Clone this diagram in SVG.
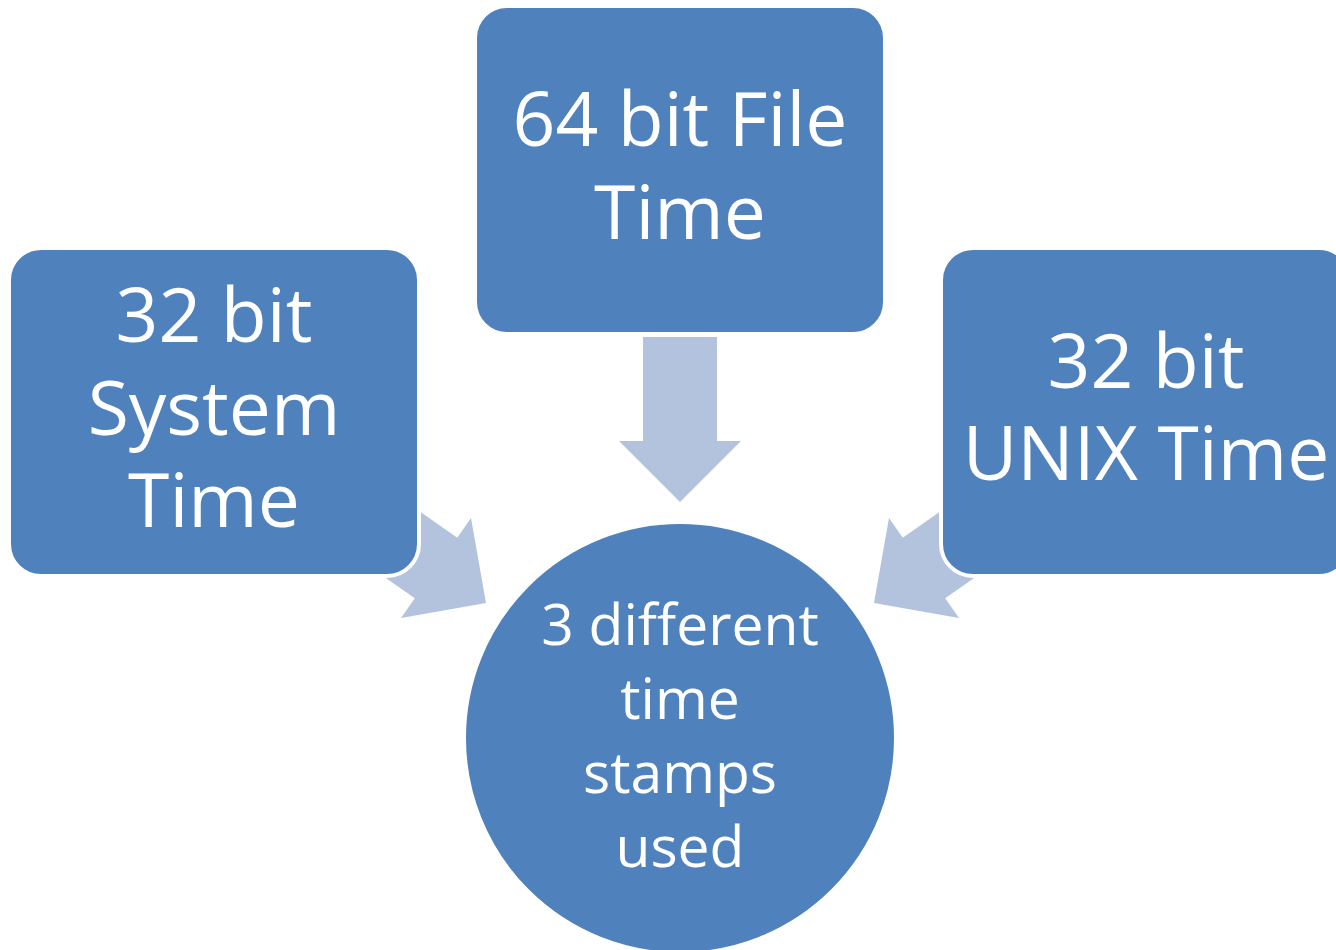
<svg xmlns="http://www.w3.org/2000/svg" width="1336" height="950" viewBox="0 0 1336 950">
<defs>
<style>
.node{fill:#4F81BD;stroke:#FFFFFF;stroke-width:4}
.arrow{fill:#B3C3DE}
.big{font-family:"Open Sans","Noto Sans",sans-serif;font-size:75px;fill:#FFFFFF;text-anchor:middle}
.mid{font-family:"Open Sans","Noto Sans",sans-serif;font-size:57px;fill:#FFFFFF;text-anchor:middle}
</style>
<polygon id="arr" points="-37,-165 37,-165 37,-61 61,-61 0,0 -61,-61 -37,-61"/>
</defs>
<rect width="1336" height="950" fill="#FFFFFF"/>
<g id="connectors">
<use href="#arr" class="arrow" transform="translate(680,502)"/>
<use href="#arr" class="arrow" transform="translate(486,603) rotate(-55)"/>
<use href="#arr" class="arrow" transform="translate(874,603) rotate(55)"/>
</g>
<g id="node-system">
<rect class="node" x="9" y="248" width="410" height="328" rx="32" ry="32"/>
<text class="big" x="214" y="342">32 bit</text>
<text class="big" x="214" y="435">System</text>
<text class="big" x="214" y="527">Time</text>
</g>
<g id="node-file">
<rect class="node" x="475" y="6" width="410" height="328" rx="32" ry="32"/>
<text class="big" x="680" y="146">64 bit File</text>
<text class="big" x="680" y="239">Time</text>
</g>
<g id="node-unix">
<rect class="node" x="941" y="248" width="410" height="328" rx="32" ry="32"/>
<text class="big" x="1146" y="388">32 bit</text>
<text class="big" x="1146" y="480">UNIX Time</text>
</g>
<g id="node-center">
<circle class="node" cx="680" cy="738" r="216"/>
<text class="mid" x="680" y="645">3 different</text>
<text class="mid" x="680" y="719">time</text>
<text class="mid" x="680" y="793">stamps</text>
<text class="mid" x="680" y="867">used</text>
</g>
</svg>
